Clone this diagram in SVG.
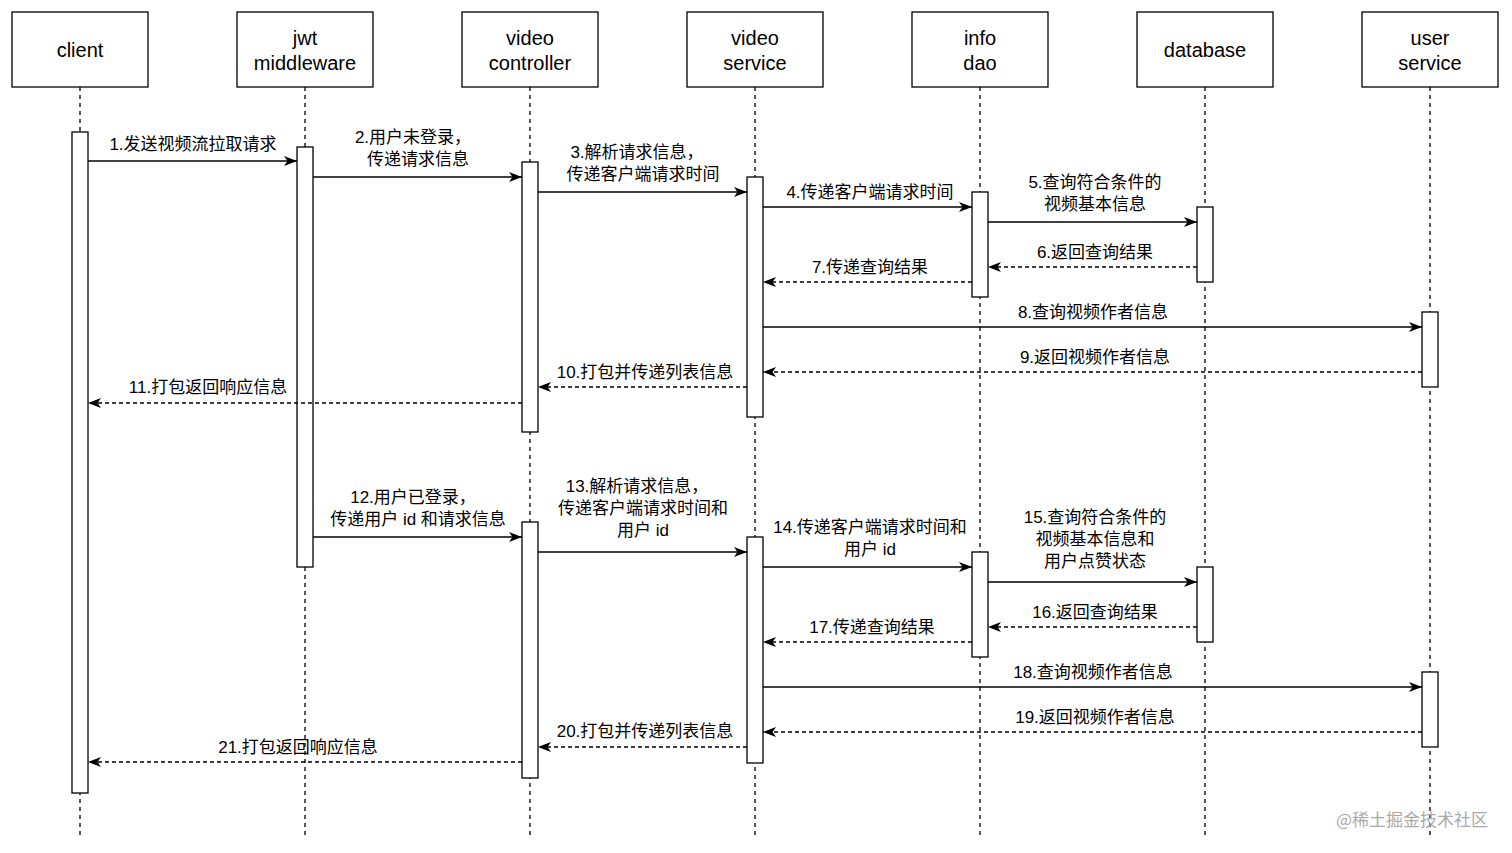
<svg xmlns="http://www.w3.org/2000/svg" width="1512" height="853" viewBox="0 0 1512 853">
<style>
.hd{fill:#fff;stroke:#000;stroke-width:1.3}
.ht{font-family:"Liberation Sans","Noto Sans CJK SC",sans-serif;font-size:20px;text-anchor:middle;fill:#000}
.ll{stroke:#000;stroke-width:1.3;stroke-dasharray:4 4;fill:none}
.act{fill:#fff;stroke:#000;stroke-width:1.3}
.m{stroke:#000;stroke-width:1.3;fill:none;marker-end:url(#ar)}
.d{stroke-dasharray:4 3}
.lt{font-family:"Liberation Sans","Noto Sans CJK SC",sans-serif;font-size:17px;text-anchor:middle;fill:#000}
</style>
<defs>
<marker id="ar" markerWidth="14" markerHeight="10" refX="13" refY="5" orient="auto" markerUnits="userSpaceOnUse">
<path d="M0,0 L13,5 L0,10 L3.5,5 Z" fill="#000"/>
</marker>
</defs>
<rect width="1512" height="853" fill="#fff"/>
<g id="lifelines">
<line class="ll" x1="80" y1="87" x2="80" y2="838"/>
<line class="ll" x1="305" y1="87" x2="305" y2="838"/>
<line class="ll" x1="530" y1="87" x2="530" y2="838"/>
<line class="ll" x1="755" y1="87" x2="755" y2="838"/>
<line class="ll" x1="980" y1="87" x2="980" y2="838"/>
<line class="ll" x1="1205" y1="87" x2="1205" y2="838"/>
<line class="ll" x1="1430" y1="87" x2="1430" y2="838"/>
</g>
<g id="client"><rect class="hd" x="12" y="12" width="136" height="75"/><text class="ht" x="80" y="57">client</text></g>
<g id="jwt"><rect class="hd" x="237" y="12" width="136" height="75"/><text class="ht" x="305" y="45">jwt</text><text class="ht" x="305" y="70">middleware</text></g>
<g id="vc"><rect class="hd" x="462" y="12" width="136" height="75"/><text class="ht" x="530" y="45">video</text><text class="ht" x="530" y="70">controller</text></g>
<g id="vs"><rect class="hd" x="687" y="12" width="136" height="75"/><text class="ht" x="755" y="45">video</text><text class="ht" x="755" y="70">service</text></g>
<g id="info"><rect class="hd" x="912" y="12" width="136" height="75"/><text class="ht" x="980" y="45">info</text><text class="ht" x="980" y="70">dao</text></g>
<g id="db"><rect class="hd" x="1137" y="12" width="136" height="75"/><text class="ht" x="1205" y="57">database</text></g>
<g id="user"><rect class="hd" x="1362" y="12" width="136" height="75"/><text class="ht" x="1430" y="45">user</text><text class="ht" x="1430" y="70">service</text></g>
<g id="activations">
<rect class="act" x="72" y="132" width="16" height="661"/>
<rect class="act" x="297" y="147" width="16" height="420"/>
<rect class="act" x="522" y="162" width="16" height="270"/>
<rect class="act" x="522" y="522" width="16" height="256"/>
<rect class="act" x="747" y="177" width="16" height="240"/>
<rect class="act" x="747" y="537" width="16" height="226"/>
<rect class="act" x="972" y="192" width="16" height="105"/>
<rect class="act" x="972" y="552" width="16" height="105"/>
<rect class="act" x="1197" y="207" width="16" height="75"/>
<rect class="act" x="1197" y="567" width="16" height="75"/>
<rect class="act" x="1422" y="312" width="16" height="75"/>
<rect class="act" x="1422" y="672" width="16" height="75"/>
</g>
<g id="connectors">
<line class="m" x1="88" y1="161" x2="297" y2="161"/>
<line class="m" x1="313" y1="177" x2="522" y2="177"/>
<line class="m" x1="538" y1="192" x2="747" y2="192"/>
<line class="m" x1="763" y1="207" x2="972" y2="207"/>
<line class="m" x1="988" y1="222" x2="1197" y2="222"/>
<line class="m d" x1="1197" y1="267" x2="988" y2="267"/>
<line class="m d" x1="972" y1="282" x2="763" y2="282"/>
<line class="m" x1="763" y1="327" x2="1422" y2="327"/>
<line class="m d" x1="1422" y1="372" x2="763" y2="372"/>
<line class="m d" x1="747" y1="387" x2="538" y2="387"/>
<line class="m d" x1="522" y1="403" x2="88" y2="403"/>
<line class="m" x1="313" y1="537" x2="522" y2="537"/>
<line class="m" x1="538" y1="552" x2="747" y2="552"/>
<line class="m" x1="763" y1="567" x2="972" y2="567"/>
<line class="m" x1="988" y1="582" x2="1197" y2="582"/>
<line class="m d" x1="1197" y1="627" x2="988" y2="627"/>
<line class="m d" x1="972" y1="642" x2="763" y2="642"/>
<line class="m" x1="763" y1="687" x2="1422" y2="687"/>
<line class="m d" x1="1422" y1="732" x2="763" y2="732"/>
<line class="m d" x1="747" y1="747" x2="538" y2="747"/>
<line class="m d" x1="522" y1="762" x2="88" y2="762"/>
</g>
<g id="labels">
<text class="lt" x="193" y="150">1.发送视频流拉取请求</text>
<text class="lt" x="413" y="143">2.用户未登录，</text><text class="lt" x="418" y="165">传递请求信息</text>
<text class="lt" x="637" y="158">3.解析请求信息，</text><text class="lt" x="643" y="180">传递客户端请求时间</text>
<text class="lt" x="870" y="198">4.传递客户端请求时间</text>
<text class="lt" x="1095" y="188">5.查询符合条件的</text><text class="lt" x="1095" y="210">视频基本信息</text>
<text class="lt" x="1095" y="258">6.返回查询结果</text>
<text class="lt" x="870" y="273">7.传递查询结果</text>
<text class="lt" x="1093" y="318">8.查询视频作者信息</text>
<text class="lt" x="1095" y="363">9.返回视频作者信息</text>
<text class="lt" x="645" y="378">10.打包并传递列表信息</text>
<text class="lt" x="208" y="393">11.打包返回响应信息</text>
<text class="lt" x="413" y="503">12.用户已登录，</text><text class="lt" x="418" y="525">传递用户 id 和请求信息</text>
<text class="lt" x="637" y="492">13.解析请求信息，</text><text class="lt" x="643" y="514">传递客户端请求时间和</text><text class="lt" x="643" y="536">用户 id</text>
<text class="lt" x="870" y="533">14.传递客户端请求时间和</text><text class="lt" x="870" y="555">用户 id</text>
<text class="lt" x="1095" y="523">15.查询符合条件的</text><text class="lt" x="1095" y="545">视频基本信息和</text><text class="lt" x="1095" y="567">用户点赞状态</text>
<text class="lt" x="1095" y="618">16.返回查询结果</text>
<text class="lt" x="872" y="633">17.传递查询结果</text>
<text class="lt" x="1093" y="678">18.查询视频作者信息</text>
<text class="lt" x="1095" y="723">19.返回视频作者信息</text>
<text class="lt" x="645" y="737">20.打包并传递列表信息</text>
<text class="lt" x="298" y="753">21.打包返回响应信息</text>
</g>
<text x="1488" y="826" font-family="'Noto Sans CJK SC',sans-serif" font-size="17" fill="#aaa" text-anchor="end">@稀土掘金技术社区</text>
</svg>
